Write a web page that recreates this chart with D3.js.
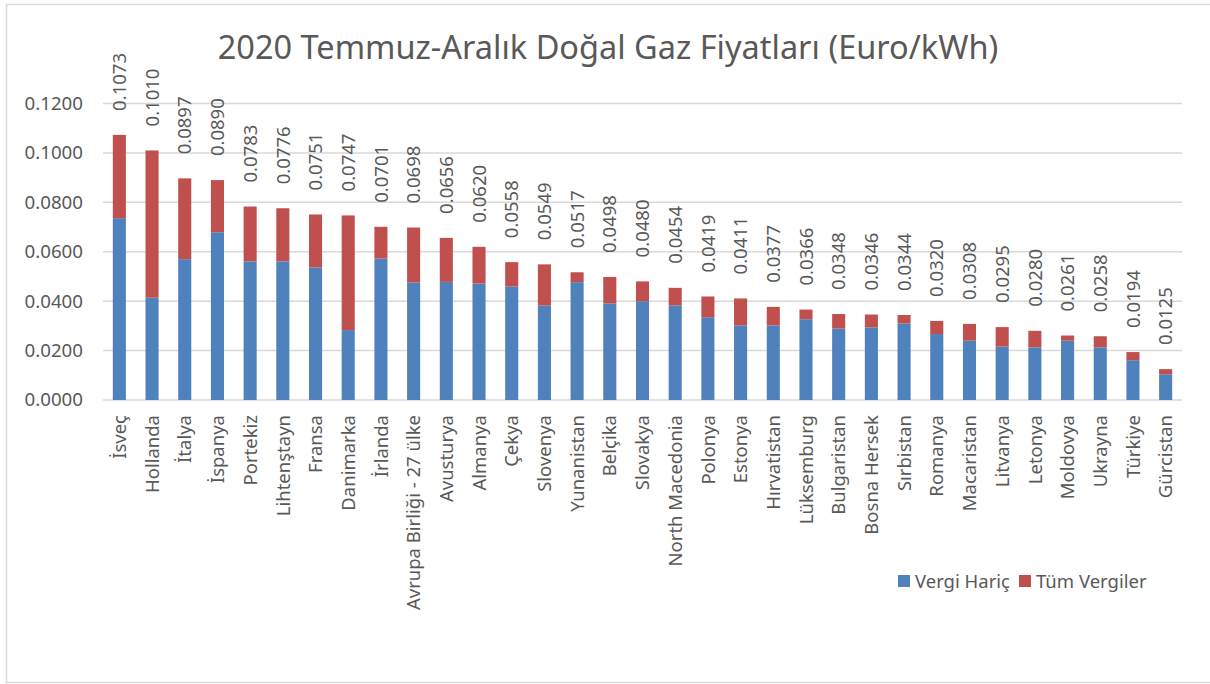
<!DOCTYPE html>
<html>
<head>
<meta charset="utf-8">
<script src="https://cdn.jsdelivr.net/npm/d3@7"></script>
<style>
  body { margin: 0; background: #fff; }
  text { font-family: "Noto Sans", "Open Sans", sans-serif; fill: #595959; }
</style>
</head>
<body>
<div id="chart"></div>
<script>
'use strict';

const countries = ["İsveç", "Hollanda", "İtalya", "İspanya", "Portekiz", "Lihtenştayn", "Fransa",
  "Danimarka", "İrlanda", "Avrupa Birliği - 27 ülke", "Avusturya", "Almanya", "Çekya", "Slovenya",
  "Yunanistan", "Belçika", "Slovakya", "North Macedonia", "Polonya", "Estonya", "Hırvatistan",
  "Lüksemburg", "Bulgaristan", "Bosna Hersek", "Sırbistan", "Romanya", "Macaristan", "Litvanya",
  "Letonya", "Moldovya", "Ukrayna", "Türkiye", "Gürcistan"];

// blue part (without tax)
const vergiHaric = [0.0736, 0.0414, 0.0570, 0.0679, 0.0561, 0.0561, 0.0537, 0.0283, 0.0572, 0.0476,
  0.0478, 0.0471, 0.0459, 0.0383, 0.0477, 0.0391, 0.0400, 0.0383, 0.0335, 0.0302, 0.0302,
  0.0327, 0.0289, 0.0294, 0.0310, 0.0267, 0.0240, 0.0216, 0.0213, 0.0240, 0.0213, 0.0161, 0.0104];

// red part (all taxes)
const tumVergiler = [0.0337, 0.0596, 0.0327, 0.0211, 0.0222, 0.0215, 0.0214, 0.0464, 0.0129, 0.0222,
  0.0178, 0.0149, 0.0099, 0.0166, 0.0040, 0.0107, 0.0080, 0.0071, 0.0084, 0.0109, 0.0075,
  0.0039, 0.0059, 0.0052, 0.0034, 0.0053, 0.0068, 0.0079, 0.0067, 0.0021, 0.0045, 0.0033, 0.0021];

// labels on top of the bars
const toplam = [0.1073, 0.1010, 0.0897, 0.0890, 0.0783, 0.0776, 0.0751, 0.0747, 0.0701, 0.0698,
  0.0656, 0.0620, 0.0558, 0.0549, 0.0517, 0.0498, 0.0480, 0.0454, 0.0419, 0.0411, 0.0377,
  0.0366, 0.0348, 0.0346, 0.0344, 0.0320, 0.0308, 0.0295, 0.0280, 0.0261, 0.0258, 0.0194, 0.0125];

const yTicks = [0, 0.02, 0.04, 0.06, 0.08, 0.10, 0.12];
const seriesNames = ["Vergi Hariç", "Tüm Vergiler"];
const colors = ["#4F81BD", "#C0504D"];

(function() {
  let svg = d3.select('#chart')
    .append('svg')
    .attr('width', 1210)
    .attr('height', 684);

  // outer frame
  svg.append('rect')
    .attr('x', 6.5)
    .attr('y', 4.5)
    .attr('width', 1215)
    .attr('height', 678)
    .attr('fill', '#fff')
    .attr('stroke', '#D9D9D9')
    .attr('stroke-width', 1.5);

  let rows = countries.map((c, i) => ({ country: c, haric: vergiHaric[i], vergi: tumVergiler[i], total: toplam[i] }));

  let xScale = d3.scaleBand()
    .domain(countries)
    .range([103, 1182])
    .paddingInner(0.6)
    .paddingOuter(0.3);

  let yScale = d3.scaleLinear()
    .domain([0, 0.12])
    .range([400, 103.5]);

  // gridlines
  svg.append('g')
    .selectAll('line')
    .data(yTicks)
    .enter()
    .append('line')
      .attr('x1', 103)
      .attr('x2', 1182)
      .attr('y1', (d) => yScale(d))
      .attr('y2', (d) => yScale(d))
      .attr('stroke', '#D9D9D9')
      .attr('stroke-width', 1.5);

  // y axis labels
  let yAxis = d3.axisLeft(yScale)
    .tickValues(yTicks)
    .tickSize(0)
    .tickPadding(0)
    .tickFormat(d3.format('.4f'));
  let yG = svg.append('g')
    .attr('transform', 'translate(83, 0)')
    .call(yAxis);
  yG.select('.domain').remove();
  yG.selectAll('text')
    .style('font-size', '18.7px')
    .style('font-family', '"Noto Sans", sans-serif')
    .attr('fill', '#595959');

  // stacked bars
  let stack = d3.stack().keys(['haric', 'vergi'])(rows);
  svg.append('g')
    .selectAll('g')
    .data(stack)
    .enter()
    .append('g')
      .attr('fill', (d, i) => colors[i])
    .selectAll('rect')
    .data((d) => d)
    .enter()
    .append('rect')
      .attr('x', (d) => xScale(d.data.country))
      .attr('y', (d) => yScale(d[1]))
      .attr('width', xScale.bandwidth())
      .attr('height', (d) => yScale(d[0]) - yScale(d[1]));

  // total labels above bars
  svg.append('g')
    .selectAll('text')
    .data(rows)
    .enter()
    .append('text')
      .attr('transform', (d) => 'translate(' + (xScale(d.country) + xScale.bandwidth() / 2) + ',' + (yScale(d.total) - 24) + ')rotate(-90)')
      .attr('dy', '0.36em')
      .style('font-size', '18.5px')
      .text((d) => d3.format('.4f')(d.total));

  // category labels
  svg.append('g')
    .selectAll('text')
    .data(countries)
    .enter()
    .append('text')
      .attr('transform', (d) => 'translate(' + (xScale(d) + xScale.bandwidth() / 2) + ',415)rotate(-90)')
      .attr('dy', '0.36em')
      .attr('text-anchor', 'end')
      .style('font-size', '18.5px')
      .text((d) => d);

  // title
  svg.append('text')
    .attr('x', 608)
    .attr('y', 59)
    .attr('text-anchor', 'middle')
    .style('font-size', '32.5px')
    .text('2020 Temmuz-Aralık Doğal Gaz Fiyatları (Euro/kWh)');

  // legend
  let legendX = [898, 1019];
  let legend = svg.append('g')
    .selectAll('g')
    .data(seriesNames)
    .enter()
    .append('g')
      .attr('transform', (d, i) => 'translate(' + legendX[i] + ',575)');
  legend.append('rect')
    .attr('width', 12)
    .attr('height', 12)
    .attr('fill', (d, i) => colors[i]);
  legend.append('text')
    .attr('x', 17)
    .attr('y', 12.5)
    .style('font-size', '18.5px')
    .text((d) => d);
})();
</script>
</body>
</html>
